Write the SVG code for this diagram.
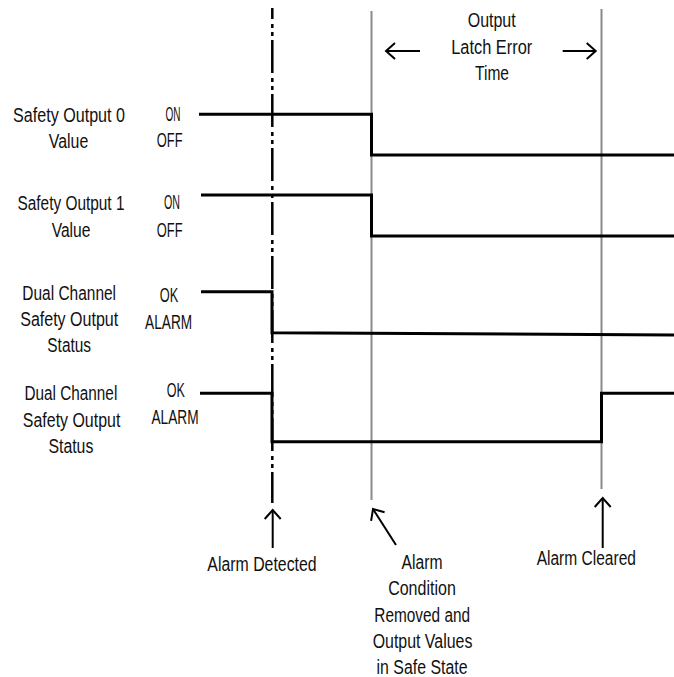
<svg xmlns="http://www.w3.org/2000/svg" width="674" height="677" viewBox="0 0 674 677">
<style>
text{font-family:"Liberation Sans",Arial,sans-serif;font-size:19.5px;fill:#111;text-anchor:middle}
.sig{fill:none;stroke:#000;stroke-width:3;stroke-linejoin:miter}
.grid{stroke:#8a8a8a;stroke-width:2;fill:none}
.dd{stroke:#000;stroke-width:2.5;fill:none;stroke-dasharray:33 5 4 4 4 4;stroke-dashoffset:22}
.arr{stroke:#000;stroke-width:2;fill:none;marker-end:url(#head)}
</style>
<defs>
<marker id="head" markerUnits="userSpaceOnUse" markerWidth="24" markerHeight="24" viewBox="-12 -12 24 24" refX="0" refY="0" orient="auto">
<path d="M-9 -8 L0 0 L-9 8" fill="none" stroke="#000" stroke-width="2"/>
</marker>
</defs>
<g id="timeline-markers">
<line class="grid" x1="371.5" y1="11" x2="371.5" y2="500"/>
<line class="grid" x1="601.5" y1="9" x2="601.5" y2="489"/>
<line class="dd" x1="272.3" y1="8" x2="272.3" y2="503"/>
</g>
<g id="signals">
<path id="sig-out0" class="sig" d="M199 114.3 H371.5 V155 H674"/>
<path id="sig-out1" class="sig" d="M201 195 H371.5 V236 H674"/>
<path id="sig-dc1" class="sig" d="M201 291.7 H272 V332.7 L674 335"/>
<path id="sig-dc2" class="sig" d="M200 393.3 H272 V441.7 H601.5 V393.3 H674"/>
</g>
<g id="row-out0">
<text x="69" y="121.5" textLength="112" lengthAdjust="spacingAndGlyphs">Safety Output 0</text>
<text x="68.5" y="147.5" textLength="39.5" lengthAdjust="spacingAndGlyphs">Value</text>
<text x="173" y="120.5" textLength="15" lengthAdjust="spacingAndGlyphs">ON</text>
<text x="169.7" y="146.5" textLength="25.8" lengthAdjust="spacingAndGlyphs">OFF</text>
</g>
<g id="row-out1">
<text x="71" y="210" textLength="107" lengthAdjust="spacingAndGlyphs">Safety Output 1</text>
<text x="71" y="236.5" textLength="38.7" lengthAdjust="spacingAndGlyphs">Value</text>
<text x="172" y="209" textLength="16" lengthAdjust="spacingAndGlyphs">ON</text>
<text x="169.7" y="236.5" textLength="25.8" lengthAdjust="spacingAndGlyphs">OFF</text>
</g>
<g id="row-dc1">
<text x="69.2" y="299.5" textLength="93.7" lengthAdjust="spacingAndGlyphs">Dual Channel</text>
<text x="69.2" y="325.5" textLength="98" lengthAdjust="spacingAndGlyphs">Safety Output</text>
<text x="69.2" y="352" textLength="43.8" lengthAdjust="spacingAndGlyphs">Status</text>
<text x="169" y="302" textLength="18.5" lengthAdjust="spacingAndGlyphs">OK</text>
<text x="168.6" y="328.5" textLength="47" lengthAdjust="spacingAndGlyphs">ALARM</text>
</g>
<g id="row-dc2">
<text x="70.9" y="400" textLength="92.8" lengthAdjust="spacingAndGlyphs">Dual Channel</text>
<text x="71.6" y="426.5" textLength="97.5" lengthAdjust="spacingAndGlyphs">Safety Output</text>
<text x="70.9" y="453" textLength="45" lengthAdjust="spacingAndGlyphs">Status</text>
<text x="175.8" y="397" textLength="18.1" lengthAdjust="spacingAndGlyphs">OK</text>
<text x="175" y="423.5" textLength="47.2" lengthAdjust="spacingAndGlyphs">ALARM</text>
</g>
<g id="latch-time">
<text x="491.7" y="27" textLength="48" lengthAdjust="spacingAndGlyphs">Output</text>
<text x="491.7" y="53.5" textLength="81" lengthAdjust="spacingAndGlyphs">Latch Error</text>
<text x="492" y="80" textLength="34" lengthAdjust="spacingAndGlyphs">Time</text>
</g>
<g id="alarm-detected">
<text x="262" y="570.5" textLength="109.3" lengthAdjust="spacingAndGlyphs">Alarm Detected</text>
</g>
<g id="alarm-removed">
<text x="422" y="568.5" textLength="41" lengthAdjust="spacingAndGlyphs">Alarm</text>
<text x="422" y="595" textLength="67.7" lengthAdjust="spacingAndGlyphs">Condition</text>
<text x="422.2" y="621.5" textLength="95.7" lengthAdjust="spacingAndGlyphs">Removed and</text>
<text x="422.5" y="647.5" textLength="99.7" lengthAdjust="spacingAndGlyphs">Output Values</text>
<text x="422" y="674" textLength="91" lengthAdjust="spacingAndGlyphs">in Safe State</text>
</g>
<g id="alarm-cleared">
<text x="586.3" y="564.5" textLength="99.3" lengthAdjust="spacingAndGlyphs">Alarm Cleared</text>
</g>
<g id="connectors">
<line class="arr" x1="420" y1="51" x2="386" y2="51"/>
<line class="arr" x1="562.7" y1="51" x2="595.7" y2="51"/>
<line class="arr" x1="272.7" y1="548" x2="272.7" y2="510"/>
<line class="arr" x1="396" y1="545" x2="373" y2="509"/>
<line class="arr" x1="602.7" y1="548" x2="602.7" y2="498"/>
</g>
</svg>
